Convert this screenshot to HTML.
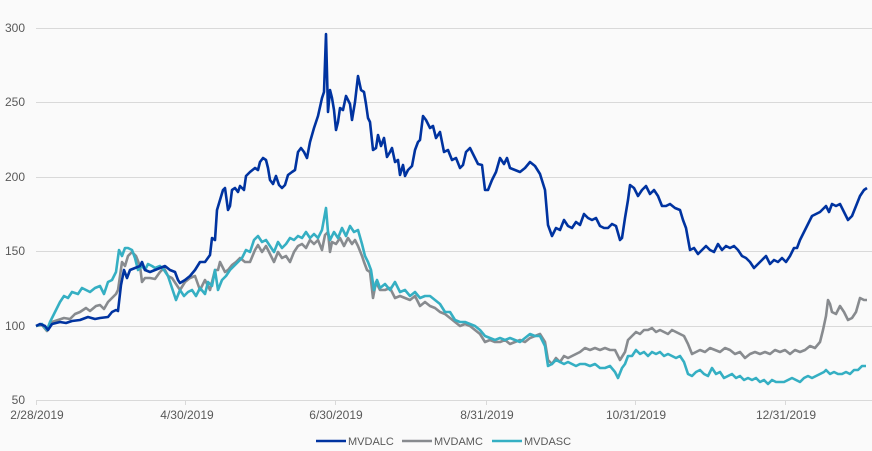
<!DOCTYPE html><html><head><style>body{margin:0;background:#fafafa}svg{display:block;font-family:"Liberation Sans",sans-serif}</style></head><body>
<svg width="872" height="451" viewBox="0 0 872 451">
<rect width="872" height="451" fill="#fafafa"/>
<g stroke="#d9d9d9" stroke-width="1">
<line x1="36" x2="872" y1="28.5" y2="28.5"/><line x1="36" x2="872" y1="102.5" y2="102.5"/><line x1="36" x2="872" y1="177.5" y2="177.5"/><line x1="36" x2="872" y1="251.5" y2="251.5"/><line x1="36" x2="872" y1="326.5" y2="326.5"/><line x1="36" x2="872" y1="400.5" y2="400.5"/>
<line x1="36.5" x2="36.5" y1="400" y2="405"/><line x1="185.5" x2="185.5" y1="400" y2="405"/><line x1="335.5" x2="335.5" y1="400" y2="405"/><line x1="486.5" x2="486.5" y1="400" y2="405"/><line x1="635.5" x2="635.5" y1="400" y2="405"/><line x1="785.5" x2="785.5" y1="400" y2="405"/>
</g>
<g font-size="12" fill="#595959" text-anchor="end">
<text x="25" y="32">300</text><text x="25" y="106">250</text><text x="25" y="181">200</text><text x="25" y="255">150</text><text x="25" y="330">100</text><text x="25" y="404">50</text>
</g>
<g font-size="12" fill="#595959" text-anchor="middle">
<text x="37" y="419">2/28/2019</text><text x="187" y="419">4/30/2019</text><text x="336" y="419">6/30/2019</text><text x="487" y="419">8/31/2019</text><text x="636" y="419">10/31/2019</text><text x="786" y="419">12/31/2019</text>
</g>
<g fill="none" stroke-width="2.6" stroke-linejoin="round">
<polyline stroke="#888b8f" points="36,326 42,325 47,331 52,322 58,320 64,318 70,319 75,314 80,312 86,308 90,311 96,306 100,305 104,309 108,302 112,298 116,294 118,290 120,276 122,262 125,266 128,256 132,252 136,256 140,266 142,282 145,278 150,278 155,279 160,272 164,268 168,276 172,278 176,284 180,290 185,282 190,278 195,276 200,290 205,280 210,290 212,282 215,270 218,270 220,262 225,272 228,270 232,265 236,262 240,258 245,262 250,262 255,250 258,245 262,252 266,246 270,254 274,262 278,252 282,258 286,256 290,262 294,252 298,246 302,244 306,248 310,240 314,244 318,240 322,250 325,235 328,232 330,252 332,242 336,244 340,238 344,246 348,238 352,244 355,240 358,246 362,256 364,262 367,270 370,272 373,298 376,282 380,290 385,290 390,288 395,298 400,296 405,298 410,300 415,296 420,306 425,302 430,306 435,308 440,312 445,314 450,318 455,322 460,326 465,324 470,326 475,330 480,334 485,342 490,340 495,342 500,342 505,340 510,344 515,342 520,340 525,342 530,338 535,336 540,334 545,342 548,360 552,364 556,358 560,362 564,356 568,358 572,356 576,354 580,352 585,348 590,350 595,348 600,350 605,348 610,350 615,350 620,360 625,352 628,340 632,336 636,332 640,334 644,330 648,330 652,328 656,332 660,330 664,332 668,334 672,330 676,332 680,334 684,336 688,344 692,354 696,352 700,350 705,352 710,348 715,350 720,352 725,348 730,350 735,354 740,352 745,358 750,354 755,352 760,354 765,352 770,354 775,350 780,352 785,350 790,354 795,350 800,352 805,350 810,346 815,348 820,342 823,330 826,316 828,300 830,304 832,312 836,314 840,306 844,312 848,320 852,318 856,312 860,298 864,300 867,300"/>
<polyline stroke="#35afc3" points="36,326 42,324 47,330 50,322 55,312 60,302 64,296 68,298 72,292 78,294 82,288 86,290 90,292 95,288 100,286 104,294 108,282 112,280 116,272 119,250 122,256 125,248 128,248 132,250 135,258 138,270 140,268 142,266 145,270 148,264 152,266 155,268 160,266 164,270 168,276 172,288 176,300 180,290 184,296 188,292 192,290 196,296 200,288 205,294 208,282 212,286 215,270 218,290 222,280 226,276 230,270 234,266 238,262 242,258 246,250 250,252 254,240 258,236 262,242 266,240 270,246 274,252 278,242 282,248 286,244 290,238 294,240 298,236 302,238 306,232 310,238 314,234 318,238 322,230 326,208 328,232 330,240 334,232 338,238 342,228 346,236 350,226 354,232 358,230 362,244 365,256 368,262 371,270 374,290 377,280 380,288 385,284 390,290 395,282 400,292 405,290 410,296 415,292 420,298 425,296 430,296 435,300 440,304 445,312 450,312 455,320 460,322 465,322 470,324 475,326 480,330 485,336 490,338 495,340 500,338 505,340 510,338 515,340 520,342 525,338 530,334 535,336 540,336 545,346 548,366 552,364 556,360 560,362 564,364 568,362 572,364 576,366 580,364 585,364 590,366 595,364 600,368 605,368 610,366 615,372 618,378 622,368 625,364 628,356 632,356 636,350 640,354 644,352 648,356 652,352 656,354 660,352 664,356 668,354 672,356 676,358 680,356 684,362 688,374 692,376 696,372 700,370 704,374 708,376 712,368 716,374 720,372 724,378 728,376 732,374 736,378 740,376 744,380 748,378 752,380 756,378 760,382 764,380 768,384 772,380 776,382 780,382 784,382 788,380 792,378 796,380 800,382 804,378 808,376 812,378 816,376 820,374 824,372 826,370 830,374 834,372 838,374 842,374 846,372 850,374 854,370 858,370 862,366 866,366"/>
<polyline stroke="#0033a0" points="36,326 40,324 45,326 48,330 52,324 60,322 66,323 72,321 80,320 88,317 95,319 100,318 108,317 112,312 116,310 118,311 121,285 124,270 127,278 130,270 135,268 140,266 142,262 145,270 150,272 155,270 160,268 165,266 170,270 175,272 178,280 180,283 185,280 190,276 195,270 200,262 205,262 210,255 212,238 215,240 217,210 220,200 223,190 225,188 228,210 230,206 232,190 235,188 238,192 240,186 244,190 246,176 250,172 255,168 258,170 260,162 263,158 266,160 268,168 270,180 273,184 276,176 279,185 282,188 285,185 288,175 292,172 295,170 298,152 301,148 304,152 307,158 310,142 314,128 318,116 322,98 324,92 326,34 328,112 330,90 332,98 334,110 336,130 338,122 340,108 343,110 346,96 348,100 350,104 352,120 355,102 358,76 361,90 364,92 366,104 368,118 370,122 373,150 376,148 378,135 381,146 384,138 387,157 390,152 392,148 395,162 398,160 400,175 403,165 405,176 408,170 412,166 415,150 418,142 420,140 423,116 426,120 430,128 433,126 436,138 440,132 444,152 448,150 452,160 456,158 460,168 463,165 466,152 470,148 474,156 478,164 482,165 485,190 488,190 492,180 496,172 500,158 504,164 507,158 510,168 515,170 520,172 525,168 530,162 535,166 540,174 545,190 548,225 552,236 556,228 560,230 564,220 568,226 572,228 576,222 580,225 584,214 588,218 592,220 596,218 600,226 604,228 608,228 612,224 616,226 620,240 622,238 625,218 628,200 630,185 634,188 638,196 642,190 646,186 650,194 654,190 658,196 662,206 666,206 670,204 675,208 680,210 683,220 686,228 690,250 694,248 698,254 702,250 706,246 710,250 714,252 718,244 722,250 726,246 730,248 734,246 738,250 742,256 746,258 750,262 754,268 758,264 762,260 766,256 770,264 774,260 778,262 782,258 786,262 790,256 794,248 797,248 800,240 804,232 808,224 812,216 816,214 820,212 822,210 826,206 829,212 832,204 836,206 840,204 844,212 848,220 852,216 856,206 860,196 864,190 867,188"/>
</g>
<g font-size="11" fill="#595959">
<line x1="316" x2="346" y1="441" y2="441" stroke="#0033a0" stroke-width="2.6"/><text x="348" y="445">MVDALC</text>
<line x1="402" x2="432" y1="441" y2="441" stroke="#888b8f" stroke-width="2.6"/><text x="434" y="445">MVDAMC</text>
<line x1="492" x2="522" y1="441" y2="441" stroke="#35afc3" stroke-width="2.6"/><text x="524" y="445">MVDASC</text>
</g>
</svg></body></html>
